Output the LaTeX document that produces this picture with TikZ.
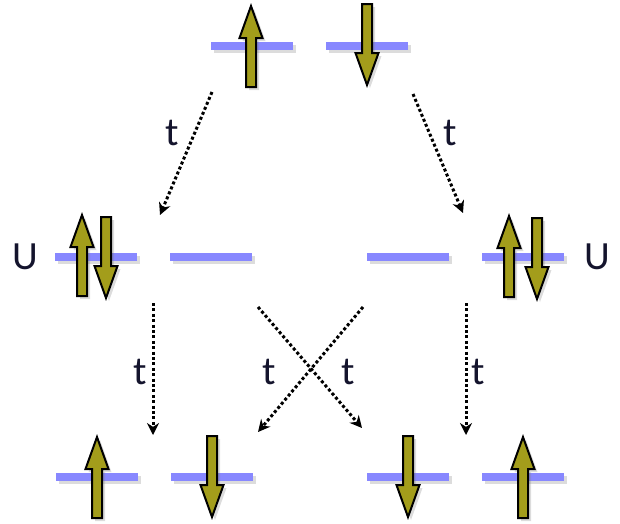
\documentclass[tikz,border=0pt]{standalone}
\usepackage{fontspec}
\setmainfont{Carlito}
\usetikzlibrary{arrows.meta,shadows}
\definecolor{barblue}{RGB}{136,136,255}
\definecolor{spinolive}{RGB}{163,157,27}
\definecolor{lbl}{RGB}{20,20,45}
\tikzset{
  shadowed/.style={drop shadow={opacity=0.28,shadow xshift=3pt,shadow yshift=-3pt}},
  levelbar/.style={rectangle, fill=barblue, draw=none, minimum width=82pt, minimum height=8.5pt, inner sep=0pt, shadowed},
  spinarrow/.style={fill=spinolive, draw=black, line width=2pt, line join=miter, shadowed},
  hop/.style={line width=3pt, dash pattern=on 3pt off 2.4pt, -{Stealth[length=12pt,width=12pt]}},
  lab/.style={font=\fontsize{40}{40}\selectfont, text=lbl, inner sep=0pt},
  pics/spinup/.style={code={\draw[spinarrow] (-5,41) -- (-5,-8) -- (-11.5,-8) -- (0,-40) -- (11.5,-8) -- (5,-8) -- (5,41) -- cycle;}},
  pics/spindown/.style={code={\draw[spinarrow] (-5,-41) -- (-5,8) -- (-11.5,8) -- (0,40) -- (11.5,8) -- (5,8) -- (5,-41) -- cycle;}},
}
\begin{document}
\begin{tikzpicture}[x=1pt,y=-1pt]
\useasboundingbox (0,0) rectangle (620,523);
% top
\node[levelbar] (T1) at (252,46) {};
\node[levelbar] (T2) at (367,46) {};
\pic at (251,46) {spinup};
\pic at (367,45) {spindown};
% middle left
\node[levelbar] (ML1) at (96,257) {};
\node[levelbar] (ML2) at (211,257) {};
\pic at (82,255) {spinup};
\pic at (106,258) {spindown};
\node[lab] (UL) at (25,257) {U};
% middle right
\node[levelbar] (MR1) at (408,257) {};
\node[levelbar] (MR2) at (523,257) {};
\pic at (509,256) {spinup};
\pic at (537,259) {spindown};
\node[lab] (UR) at (597,257) {U};
% bottom
\node[levelbar] (B1) at (97,477) {};
\node[levelbar] (B2) at (212,477) {};
\node[levelbar] (B3) at (408,477) {};
\node[levelbar] (B4) at (523,477) {};
\pic at (97,477) {spinup};
\pic at (212,477) {spindown};
\pic at (408,477) {spindown};
\pic at (523,477) {spinup};
% connectors
\coordinate (c1s) at (212,92);  \coordinate (c1e) at (160,215);
\coordinate (c2s) at (413,94);  \coordinate (c2e) at (463,213);
\coordinate (c3s) at (153,303); \coordinate (c3e) at (153,435);
\coordinate (c4s) at (258,307); \coordinate (c4e) at (362,428);
\coordinate (c5s) at (363,307); \coordinate (c5e) at (258,432);
\coordinate (c6s) at (466,303); \coordinate (c6e) at (466,435);
\draw[hop] (c1s) -- (c1e);
\draw[hop] (c2s) -- (c2e);
\draw[hop] (c3s) -- (c3e);
\draw[hop] (c4s) -- (c4e);
\draw[hop] (c5s) -- (c5e);
\draw[hop] (c6s) -- (c6e);
\node[lab] (t1) at (172,133) {t};
\node[lab] (t2) at (450,133) {t};
\node[lab] (t3) at (140,372) {t};
\node[lab] (t4) at (269,372) {t};
\node[lab] (t5) at (348,372) {t};
\node[lab] (t6) at (478,372) {t};
\end{tikzpicture}
\end{document}
